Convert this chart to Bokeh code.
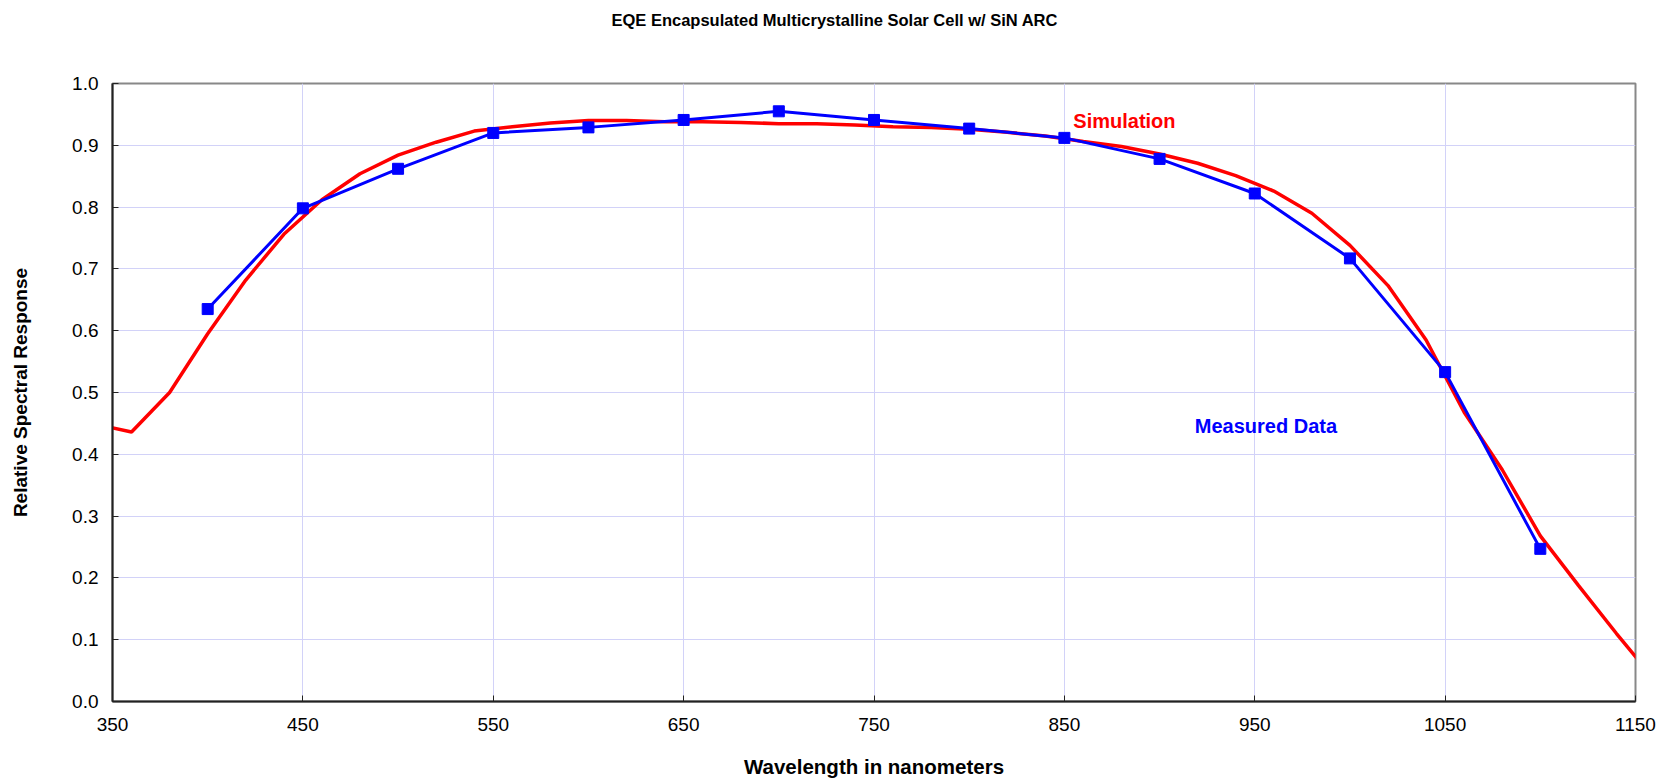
from bokeh.plotting import figure
from bokeh.models import Label, FixedTicker, Range1d, NumeralTickFormatter, Title
from bokeh.embed import file_html
from bokeh.resources import INLINE

title_text = "EQE Encapsulated Multicrystalline Solar Cell w/ SiN ARC"
x_label = "Wavelength in nanometers"
y_label = "Relative Spectral Response"

# Simulation (red line)
sim_wl = [345, 360, 380, 400, 420, 440, 460, 480, 500, 520, 540, 560, 580, 600,
          620, 640, 660, 680, 700, 720, 740, 760, 780, 800, 820, 840, 860, 880,
          900, 920, 940, 960, 980, 1000, 1020, 1040, 1060, 1080, 1100, 1120,
          1140, 1160]
sim_resp = [0.446, 0.436, 0.500, 0.595, 0.682, 0.756, 0.812, 0.854, 0.884, 0.905,
            0.923, 0.930, 0.936, 0.940, 0.940, 0.938, 0.938, 0.937, 0.935, 0.935,
            0.933, 0.930, 0.929, 0.926, 0.921, 0.915, 0.906, 0.898, 0.886, 0.871,
            0.851, 0.826, 0.790, 0.738, 0.673, 0.585, 0.468, 0.375, 0.268, 0.188,
            0.110, 0.035]

# Measured data (blue line with squares)
meas_wl = [400, 450, 500, 550, 600, 650, 700, 750, 800, 850, 900, 950, 1000, 1050, 1100]
meas_resp = [0.635, 0.798, 0.862, 0.920, 0.929, 0.941, 0.955, 0.941, 0.927, 0.912,
             0.878, 0.822, 0.717, 0.533, 0.247]

x_ticks = [350, 450, 550, 650, 750, 850, 950, 1050, 1150]
y_ticks = [0.0, 0.1, 0.2, 0.3, 0.4, 0.5, 0.6, 0.7, 0.8, 0.9, 1.0]

FONT = "Liberation Sans"

p = figure(width=1669, height=781, output_backend="svg", toolbar_location=None,
           x_range=Range1d(350, 1150), y_range=Range1d(0, 1),
           min_border_left=112, min_border_right=34, min_border_top=83,
           min_border_bottom=80, background_fill_color="white",
           border_fill_color="white")

p.title.text = title_text
p.title.text_font = FONT
p.title.text_font_size = "16.5px"
p.title.text_font_style = "bold"
p.title.text_color = "black"
p.title.align = "left"
p.title.offset = 499
p.title.standoff = 10

# invisible spacer between the title and the plot frame
p.add_layout(Title(text=" ", text_font_size="1px", standoff=47), "above")

p.outline_line_color = "#888888"
p.outline_line_width = 2

for ax in (p.xaxis[0], p.yaxis[0]):
    ax.axis_line_color = "#222222"
    ax.axis_line_width = 2
    ax.major_tick_in = 6
    ax.major_tick_out = 0
    ax.minor_tick_line_color = None
    ax.major_tick_line_color = "#222222"
    ax.major_label_text_font = FONT
    ax.major_label_text_font_size = "19px"
    ax.major_label_text_color = "black"
    ax.axis_label_text_font = FONT
    ax.axis_label_text_font_style = "bold"
    ax.axis_label_text_color = "black"

p.xaxis.axis_label_text_font_size = "20.5px"
p.yaxis.axis_label_text_font_size = "19px"
p.xaxis.ticker = FixedTicker(ticks=x_ticks)
p.yaxis.ticker = FixedTicker(ticks=y_ticks)
p.yaxis.formatter = NumeralTickFormatter(format="0.0")
p.xaxis.axis_label = x_label
p.yaxis.axis_label = y_label
p.xaxis.major_label_standoff = 16
p.yaxis.major_label_standoff = 14
p.xaxis.axis_label_standoff = 21
p.yaxis.axis_label_standoff = 38

p.xgrid.ticker = FixedTicker(ticks=x_ticks)
p.ygrid.ticker = FixedTicker(ticks=y_ticks)
p.grid.grid_line_color = "#d2d2f8"
p.grid.grid_line_width = 1

p.line(sim_wl, sim_resp, line_color="#ff0000", line_width=3.5)
p.line(meas_wl, meas_resp, line_color="#0000ff", line_width=3)
p.scatter(meas_wl, meas_resp, marker="square", size=11, fill_color="#0000ff",
          line_color="#0000ff")

p.add_layout(Label(x=854.7, y=0.940, text="Simulation", text_color="#ff0000",
                   text_font=FONT, text_font_size="20px", text_font_style="bold",
                   text_baseline="middle", text_align="left"))
p.add_layout(Label(x=918.5, y=0.445, text="Measured Data", text_color="#0000ff",
                   text_font=FONT, text_font_size="20px", text_font_style="bold",
                   text_baseline="middle", text_align="left"))

open("out.html", "w").write(file_html(p, INLINE))
